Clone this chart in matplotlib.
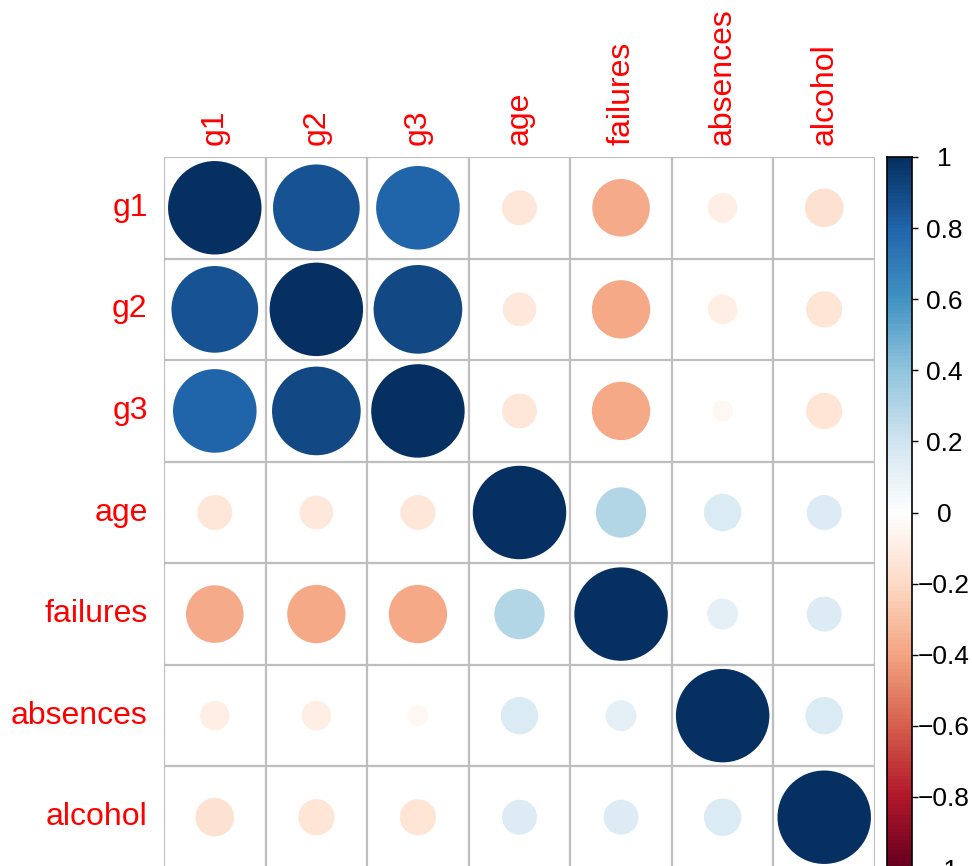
import numpy as np
import matplotlib
matplotlib.use("Agg")
import matplotlib.pyplot as plt
from matplotlib.patches import Circle
from matplotlib.colors import LinearSegmentedColormap

# variables and their correlation matrix
variables = ["g1", "g2", "g3", "age", "failures", "absences", "alcohol"]
corr = np.array([
    [1.00, 0.86, 0.80, -0.14, -0.38, -0.10, -0.17],
    [0.86, 1.00, 0.90, -0.13, -0.39, -0.10, -0.15],
    [0.80, 0.90, 1.00, -0.14, -0.39, -0.05, -0.15],
    [-0.14, -0.13, -0.14, 1.00, 0.29, 0.16, 0.14],
    [-0.38, -0.39, -0.39, 0.29, 1.00, 0.11, 0.14],
    [-0.10, -0.10, -0.05, 0.16, 0.11, 1.00, 0.16],
    [-0.17, -0.15, -0.15, 0.14, 0.14, 0.16, 1.00],
])
cbar_ticks = [1, 0.8, 0.6, 0.4, 0.2, 0, -0.2, -0.4, -0.6, -0.8, -1]

# corrplot-style red/blue palette
pal = ["#67001F", "#B2182B", "#D6604D", "#F4A582", "#FDDBC7", "#FFFFFF",
       "#D1E5F0", "#92C5DE", "#4393C3", "#2166AC", "#053061"]
cmap = LinearSegmentedColormap.from_list("corr", pal, N=200)

W, H = 972, 866
fig = plt.figure(figsize=(W / 100, H / 100), dpi=100)
plt.rcParams["font.family"] = ["Liberation Sans", "DejaVu Sans"]

# grid area in pixels
x0, x1 = 164, 875
y0, y1 = 157, 868
ax = fig.add_axes([x0 / W, (H - y1) / H, (x1 - x0) / W, (y1 - y0) / H])
n = len(variables)
ax.set_xlim(0.5, n + 0.5)
ax.set_ylim(n + 0.5, 0.5)
ax.axis("off")

for k in range(n + 1):
    ax.plot([k + 0.5, k + 0.5], [0.5, n + 0.5], color="#BEBEBE", lw=1.6,
            solid_capstyle="butt", zorder=1)
    ax.plot([0.5, n + 0.5], [k + 0.5, k + 0.5], color="#BEBEBE", lw=1.6,
            solid_capstyle="butt", zorder=1)

for i in range(n):
    for j in range(n):
        r = corr[i, j]
        c = cmap((r + 1) / 2)
        ax.add_patch(Circle((j + 1, i + 1), 0.46 * np.sqrt(abs(r)),
                            facecolor=c, edgecolor="none", zorder=2))

# labels
for k, name in enumerate(variables):
    ax.text(0.5 - 0.16, k + 1, name, ha="right", va="center",
            color="red", fontsize=23)
    ax.text(k + 1, 0.5 - 0.12, name, ha="center", va="bottom",
            rotation=90, color="red", fontsize=23)

# colour legend
cb_l, cb_r = 887, 912
cax = fig.add_axes([cb_l / W, (H - y1) / H, (cb_r - cb_l) / W, (y1 - y0) / H])
grad = np.linspace(1, -1, 200).reshape(-1, 1)
cax.imshow(grad, cmap=cmap, vmin=-1, vmax=1, aspect="auto",
           extent=[0, 1, -1, 1])
cax.set_xlim(0, 1)
cax.set_ylim(-1, 1)
cax.set_xticks([])
cax.yaxis.tick_right()
cax.set_yticks(cbar_ticks)
cax.set_yticklabels([f"{t:g}".replace("-", "\u2212") for t in cbar_ticks],
                    fontsize=19, ha="center")
cax.tick_params(axis="y", length=4, width=1, pad=19, colors="black")
for s in cax.spines.values():
    s.set_linewidth(1.2)

fig.savefig("out.png", dpi=100)
